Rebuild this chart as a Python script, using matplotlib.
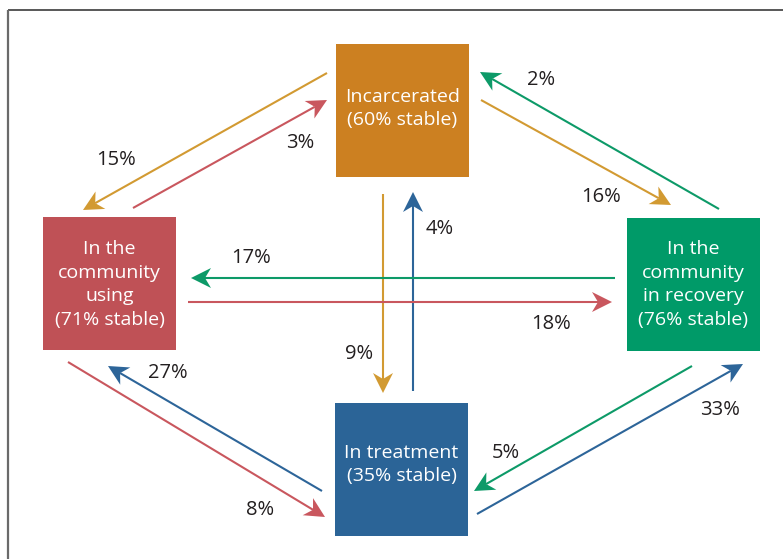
import numpy as np
import matplotlib.pyplot as plt
from matplotlib.patches import Rectangle, Polygon

plt.rcParams['font.family'] = ['Open Sans', 'DejaVu Sans']

# states and how many stay put
states = ['Incarcerated', 'In the\ncommunity\nusing', 'In the\ncommunity\nin recovery', 'In treatment']
stable = [60, 71, 76, 35]
box_colors = ['#cc8021', '#bf5156', '#009a68', '#2b6497']

# transitions: (from, to, percent)
src = [0, 1, 0, 2, 0, 3, 2, 1, 1, 3, 2, 3]
dst = [1, 0, 2, 0, 3, 0, 1, 2, 3, 1, 3, 2]
pct = [15, 3, 16, 2, 9, 4, 17, 18, 8, 27, 5, 33]

# layout in pixel space (origin top-left)
box_xy = [(336, 44), (43, 217), (627, 218), (335, 403)]
box_size = 133
text_dy = [-2, 1, 0, -5]
arrow_colors = ['#d29a32', '#c9575e', '#d29a32', '#0d9a68', '#d29a32', '#2d6599',
                '#0d9a68', '#c9575e', '#c9575e', '#2d6599', '#0d9a68', '#2d6599']
arrow_start = [(327, 73), (133, 208), (481, 100), (719, 209), (383, 194), (413, 391),
               (615, 278), (188, 302), (68, 362), (322, 491), (692, 366), (477, 514)]
arrow_tip = [(83, 210), (327, 100), (671, 205), (480, 72), (383, 393), (413, 192),
             (191, 278), (612, 302), (325, 517), (108, 366), (474, 491), (743, 364)]
label_xy = [(116, 160), (300, 143), (601, 197), (541, 80), (359, 354), (440, 229),
            (251, 258), (551, 324), (260, 510), (168, 373), (506, 453), (720, 410)]

W, H = 783, 559
fig = plt.figure(figsize=(W / 100, H / 100), dpi=100)
ax = fig.add_axes([0, 0, 1, 1])
ax.set_xlim(0, W)
ax.set_ylim(H, 0)
ax.axis('off')

# frame (only top and left edges visible)
ax.plot([8, W + 5], [10, 10], color='#4a4a4a', lw=1.3, solid_capstyle='butt')
ax.plot([8, 8], [10, H + 5], color='#6a6a6a', lw=1.6, solid_capstyle='butt')

for i, name in enumerate(states):
    x0, y0 = box_xy[i]
    ax.add_patch(Rectangle((x0, y0), box_size, box_size, color=box_colors[i], lw=0))
    ax.text(x0 + box_size / 2, y0 + box_size / 2 + text_dy[i],
            f'{name}\n({stable[i]}% stable)', color='white', fontsize=14,
            ha='center', va='center', linespacing=1.41)


def arrow(p0, p1, color):
    p0 = np.array(p0, float)
    p1 = np.array(p1, float)
    u = (p1 - p0) / np.linalg.norm(p1 - p0)
    n = np.array([-u[1], u[0]])
    L, hw, notch = 20, 10, 6
    back = p1 - L * u
    mid = p1 - (L - notch) * u
    ax.plot([p0[0], mid[0]], [p0[1], mid[1]], color=color, lw=1.5, solid_capstyle='butt')
    ax.add_patch(Polygon([p1, back + hw * n, mid, back - hw * n], closed=True,
                         color=color, lw=0))


for k in range(len(pct)):
    arrow(arrow_start[k], arrow_tip[k], arrow_colors[k])
    ax.text(label_xy[k][0], label_xy[k][1], f'{pct[k]}%', color='#231f20',
            fontsize=14.5, ha='center', va='center')

fig.savefig('out.png', dpi=100)
